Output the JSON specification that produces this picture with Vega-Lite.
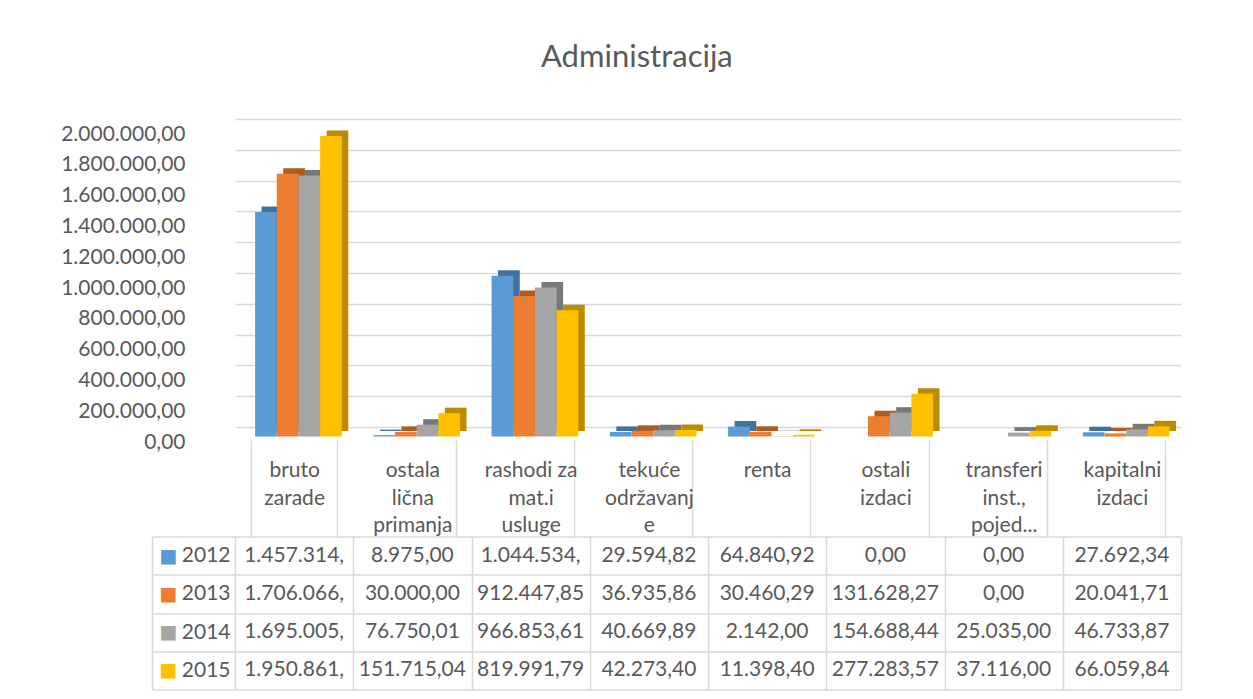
{
  "$schema": "https://vega.github.io/schema/vega-lite/v6.json",
  "padding": {"left": 60, "top": 42, "right": 5, "bottom": 5},
  "background": "white",
  "config": {
    "locale": {"number": {"decimal": ",", "thousands": ".", "grouping": [3], "currency": ["", ""]}},
    "font": "Lato",
    "view": {"stroke": null},
    "axis": {"labelFont": "Lato", "labelFontSize": 21, "labelColor": "#595959", "gridColor": "#D9D9D9", "gridWidth": 1.5, "tickColor": "#D9D9D9", "tickWidth": 1.5, "domainColor": "#D9D9D9", "domainWidth": 1.5}
  },
  "title": {"text": "Administracija", "fontSize": 31, "font": "Lato", "fontWeight": "normal", "color": "#595959", "offset": 45, "dx": 16, "anchor": "middle"},
  "datasets": {
    "d": [
      {"cat": "bruto zarade", "year": "2012", "value": 1457314, "text": "1.457.314,"},
      {"cat": "bruto zarade", "year": "2013", "value": 1706066, "text": "1.706.066,"},
      {"cat": "bruto zarade", "year": "2014", "value": 1695005, "text": "1.695.005,"},
      {"cat": "bruto zarade", "year": "2015", "value": 1950861, "text": "1.950.861,"},
      {"cat": "ostala lična primanja", "year": "2012", "value": 8975.00, "text": "8.975,00"},
      {"cat": "ostala lična primanja", "year": "2013", "value": 30000.00, "text": "30.000,00"},
      {"cat": "ostala lična primanja", "year": "2014", "value": 76750.01, "text": "76.750,01"},
      {"cat": "ostala lična primanja", "year": "2015", "value": 151715.04, "text": "151.715,04"},
      {"cat": "rashodi za mat.i usluge", "year": "2012", "value": 1044534, "text": "1.044.534,"},
      {"cat": "rashodi za mat.i usluge", "year": "2013", "value": 912447.85, "text": "912.447,85"},
      {"cat": "rashodi za mat.i usluge", "year": "2014", "value": 966853.61, "text": "966.853,61"},
      {"cat": "rashodi za mat.i usluge", "year": "2015", "value": 819991.79, "text": "819.991,79"},
      {"cat": "tekuće održavanje", "year": "2012", "value": 29594.82, "text": "29.594,82"},
      {"cat": "tekuće održavanje", "year": "2013", "value": 36935.86, "text": "36.935,86"},
      {"cat": "tekuće održavanje", "year": "2014", "value": 40669.89, "text": "40.669,89"},
      {"cat": "tekuće održavanje", "year": "2015", "value": 42273.40, "text": "42.273,40"},
      {"cat": "renta", "year": "2012", "value": 64840.92, "text": "64.840,92"},
      {"cat": "renta", "year": "2013", "value": 30460.29, "text": "30.460,29"},
      {"cat": "renta", "year": "2014", "value": 2142.00, "text": "2.142,00"},
      {"cat": "renta", "year": "2015", "value": 11398.40, "text": "11.398,40"},
      {"cat": "ostali izdaci", "year": "2012", "value": 0, "text": "0,00"},
      {"cat": "ostali izdaci", "year": "2013", "value": 131628.27, "text": "131.628,27"},
      {"cat": "ostali izdaci", "year": "2014", "value": 154688.44, "text": "154.688,44"},
      {"cat": "ostali izdaci", "year": "2015", "value": 277283.57, "text": "277.283,57"},
      {"cat": "transferi inst., pojed...", "year": "2012", "value": 0, "text": "0,00"},
      {"cat": "transferi inst., pojed...", "year": "2013", "value": 0, "text": "0,00"},
      {"cat": "transferi inst., pojed...", "year": "2014", "value": 25035.00, "text": "25.035,00"},
      {"cat": "transferi inst., pojed...", "year": "2015", "value": 37116.00, "text": "37.116,00"},
      {"cat": "kapitalni izdaci", "year": "2012", "value": 27692.34, "text": "27.692,34"},
      {"cat": "kapitalni izdaci", "year": "2013", "value": 20041.71, "text": "20.041,71"},
      {"cat": "kapitalni izdaci", "year": "2014", "value": 46733.87, "text": "46.733,87"},
      {"cat": "kapitalni izdaci", "year": "2015", "value": 66059.84, "text": "66.059,84"}
    ]
  },
  "spacing": 109.5,
  "bounds": "flush",
  "vconcat": [
    {
      "width": 946,
      "height": 308,
      "data": {"name": "d"},
      "encoding": {
        "x": {
          "field": "cat", "type": "nominal", "sort": null, "title": null,
          "scale": {"type": "band", "paddingInner": 0.267, "paddingOuter": 0.1335},
          "axis": {
            "orient": "bottom", "offset": 13, "tickBand": "extent", "tickSize": 96.5,
            "labelPadding": -77, "labelBaseline": "top", "labelLineHeight": 27.5, "labelAngle": 0,
            "labelLimit": 0, "domain": false, "grid": false,
            "labelExpr": "datum.label == 'tekuće održavanje' ? ['tekuće', 'održavanj', 'e'] : datum.label == 'rashodi za mat.i usluge' ? ['rashodi za', 'mat.i', 'usluge'] : datum.label == 'transferi inst., pojed...' ? ['transferi', 'inst.,', 'pojed...'] : split(datum.label, ' ')"
          }
        },
        "y": {
          "field": "value", "type": "quantitative", "title": null,
          "scale": {"domain": [0, 2000000], "nice": false},
          "axis": {
            "values": [0, 200000, 400000, 600000, 800000, 1000000, 1200000, 1400000, 1600000, 1800000, 2000000],
            "format": ",.2f", "labelPadding": 50, "labelOffset": 15, "labelFlush": false, "labelOverlap": false,
            "ticks": false, "domain": false, "grid": true
          }
        }
      },
      "layer": [
        {
          "mark": {"type": "bar", "yOffset": 4, "y2Offset": 4},
          "encoding": {
            "xOffset": {"field": "year", "type": "nominal", "scale": {"type": "band", "range": [10.8, 97.5], "paddingInner": 0, "paddingOuter": 0}},
            "color": {"field": "year", "type": "nominal", "scale": {"range": ["#41719C", "#AE5A21", "#787878", "#BC8C00"]}, "legend": null}
          }
        },
        {
          "mark": {"type": "bar", "yOffset": 9.5, "y2Offset": 9.5},
          "encoding": {
            "xOffset": {"field": "year", "type": "nominal", "scale": {"type": "band", "range": [4.3, 91], "paddingInner": 0, "paddingOuter": 0}},
            "color": {"field": "year", "type": "nominal", "scale": {"range": ["#5B9BD5", "#ED7D31", "#A5A5A5", "#FFC000"]}, "legend": null}
          }
        }
      ],
      "resolve": {"scale": {"xOffset": "independent", "color": "independent"}}
    },
    {
      "width": 946,
      "height": 153,
      "data": {"name": "d"},
      "encoding": {
        "x": {
          "field": "cat", "type": "nominal", "sort": null, "title": null,
          "scale": {"type": "band", "paddingInner": 0, "paddingOuter": 0},
          "axis": {"orient": "top", "labels": false, "ticks": false, "domain": false, "grid": true, "tickBand": "extent"}
        }
      },
      "layer": [
        {
          "mark": {"type": "text", "font": "Lato", "fontSize": 21, "color": "#595959"},
          "encoding": {
            "y": {
              "field": "year", "type": "nominal", "title": null,
              "scale": {"type": "band", "paddingInner": 0, "paddingOuter": 0, "domain": ["2012", "2013", "2014", "2015"]},
              "axis": {"orient": "left", "grid": true, "tickBand": "extent", "tickSize": 83, "labelPadding": -78, "labelAlign": "right", "domain": false}
            },
            "text": {"field": "text"}
          }
        },
        {
          "mark": {"type": "text", "opacity": 0},
          "encoding": {
            "y": {
              "field": "year", "type": "nominal", "title": null,
              "scale": {"type": "band", "paddingInner": 0, "paddingOuter": 0, "domain": ["2012", "2013", "2014", "2015"]},
              "axis": {
                "orient": "left", "offset": 83, "ticks": false, "grid": false, "domain": true,
                "labelAlign": "left", "labelPadding": -7, "labelExpr": "'■'", "labelFont": "DejaVu Sans", "labelFontSize": 19,
                "labelColor": {"expr": "datum.value == '2012' ? '#5B9BD5' : datum.value == '2013' ? '#ED7D31' : datum.value == '2014' ? '#A5A5A5' : '#FFC000'"}
              }
            },
            "text": {"field": "text"}
          }
        }
      ],
      "resolve": {"scale": {"y": "independent"}, "axis": {"y": "independent"}}
    }
  ]
}
